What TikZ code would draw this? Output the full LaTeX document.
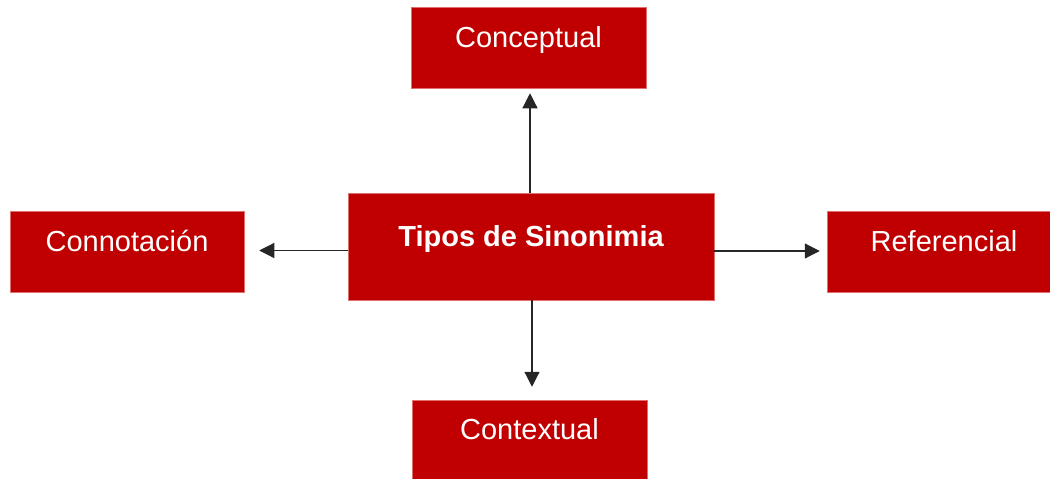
\documentclass[tikz,border=0pt]{standalone}
\usepackage{fontspec}
\setmainfont{Liberation Sans}
\usetikzlibrary{arrows.meta}
\definecolor{boxred}{RGB}{192,0,0}
\definecolor{boxedge}{RGB}{226,110,110}

\begin{document}
\begin{tikzpicture}[x=1pt,y=-1pt,
    typebox/.style={fill=boxred, draw=boxedge, line width=0.5pt, text=white, inner sep=0pt,
        minimum width=235pt, minimum height=81pt, text height=22pt, text depth=22pt,
        font=\fontsize{29pt}{34pt}\selectfont},
    link/.style={draw=black!85, line width=1.2pt, -{Triangle[length=15pt,width=15pt]}}]
\useasboundingbox (0,0) rectangle (1050,479);

% Central box
\node[typebox, minimum width=366pt, minimum height=107pt, font=\fontsize{29pt}{34pt}\selectfont\bfseries] (tipos) at (531,246.5) {Tipos de Sinonimia};

% Types of synonymy
\node[typebox] (conceptual) at (528.5,47.5) {Conceptual};
\node[typebox, minimum width=234pt] (connotacion) at (127,251.5) {Connotación};
\node[typebox, minimum width=234pt] (referencial) at (944,251.5) {Referencial};
\node[typebox, minimum height=79pt] (contextual) at (529.5,439.5) {Contextual};

% Arrows
\draw[link, shorten >=5pt] ([xshift=-1pt]tipos.north) -- ([xshift=-1pt]tipos.north |- conceptual.south);
\draw[link, shorten >=15pt] ([yshift=-4pt]tipos.west) -- ([yshift=-4pt]tipos.west -| connotacion.east);
\draw[link, shorten >=7pt] ([yshift=-4.5pt]tipos.east) -- ([yshift=-4.5pt]tipos.east -| referencial.west);
\draw[link, shorten >=13pt] ([xshift=1pt]tipos.south) -- ([xshift=1pt]tipos.south |- contextual.north);

\end{tikzpicture}
\end{document}
